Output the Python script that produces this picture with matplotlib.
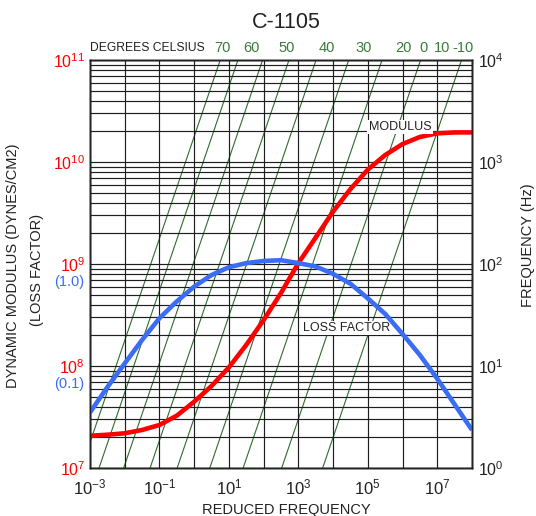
"""
C-1105 damping material nomogram: dynamic modulus and loss factor
against reduced frequency, with temperature isotherms.
"""

import matplotlib
matplotlib.use("Agg")
import matplotlib.pyplot as plt
import matplotlib.ticker as mticker
import matplotlib.transforms as mtransforms
import numpy as np

plt.rcParams["font.family"] = ["Liberation Sans", "DejaVu Sans"]
plt.rcParams["mathtext.fontset"] = "custom"
plt.rcParams["mathtext.rm"] = "Liberation Sans"
plt.rcParams["mathtext.it"] = "Liberation Sans:italic"
plt.rcParams["mathtext.bf"] = "Liberation Sans:bold"

# ── data ────────────────────────────────────────────────────────────────────
reduced_freq_exp = [-3, -2.5, -2, -1.5, -1, -0.5, 0, 0.5, 1, 1.5, 2, 2.5,
                    3, 3.5, 4, 4.5, 5, 5.5, 6, 6.5, 7, 7.5, 8]
modulus = [2.07e7, 2.12e7, 2.19e7, 2.36e7, 2.64e7, 3.26e7, 4.47e7, 6.37e7,
           9.70e7, 1.61e8, 2.82e8, 5.20e8, 1.02e9, 1.82e9, 3.27e9, 5.43e9,
           8.43e9, 1.17e10, 1.50e10, 1.76e10, 1.91e10, 1.95e10, 1.95e10]
loss_factor = [0.035, 0.062, 0.106, 0.180, 0.294, 0.43, 0.60, 0.78, 0.93,
               1.02, 1.07, 1.09, 1.02, 0.945, 0.80, 0.64, 0.46, 0.324,
               0.206, 0.128, 0.075, 0.042, 0.0236]

# isotherms: log10 of shift factor aT (fR = f * aT)
shift_exp = [-3.25, -2.74, -2.03, -1.27, -0.49, 0.45, 1.41, 2.52, 3.70]
temp_labels = ["70", "60", "50", "40", "30", "20", "0", "10", "-10"]
temp_label_pos = [0.80, 1.64, 2.67, 3.82, 4.89, 6.04, 6.59, 7.14, 7.74]

# ── colours ─────────────────────────────────────────────────────────────────
C_MOD = "#ff0000"
C_LOSS = "#3a6cf4"
C_ISO = "#2e6b2e"
C_ISO_TXT = "#3b7a3b"
C_GRID = "#1e1e1e"
C_TXT = "#222222"

rf = 10.0 ** np.array(reduced_freq_exp)

fig = plt.figure(figsize=(5.36, 5.16), dpi=100)
fig.patch.set_facecolor("white")
ax = fig.add_axes([90 / 536, 48 / 516, 382 / 536, 408 / 516])
ax2 = ax.twinx()   # frequency (Hz) – isotherms
ax3 = ax.twinx()   # loss factor

ax2.set_zorder(1)
ax.set_zorder(2)
ax3.set_zorder(3)
ax.patch.set_visible(False)

ax.set_xscale("log")
ax.set_yscale("log")
ax.set_xlim(1e-3, 1e8)
ax.set_ylim(1e7, 1e11)
ax2.set_yscale("log")
ax2.set_ylim(1, 1e4)
ax3.set_yscale("log")
ax3.set_ylim(1e-2, 1e2)


def pow10(v, pos=None):
    return rf"$10^{{\mathregular{{{int(round(np.log10(v)))}}}}}$"


def xfmt(v, pos):
    e = int(round(np.log10(v)))
    return pow10(v) if e % 2 else ""


# x ticks: every decade for grid, label every other one
ax.xaxis.set_major_locator(mticker.LogLocator(base=10, numticks=20))
ax.xaxis.set_minor_locator(mticker.NullLocator())
ax.xaxis.set_major_formatter(mticker.FuncFormatter(xfmt))
ax.yaxis.set_major_locator(mticker.LogLocator(base=10, numticks=10))
ax.yaxis.set_minor_locator(mticker.LogLocator(base=10, subs=np.arange(2, 10), numticks=10))
ax.yaxis.set_major_formatter(mticker.FuncFormatter(pow10))
ax.yaxis.set_minor_formatter(mticker.NullFormatter())
ax.grid(True, which="both", color=C_GRID, lw=0.85)
ax.tick_params(which="both", length=0)
ax.tick_params(axis="y", colors=C_MOD, labelsize=11.5, pad=3.5)
ax.tick_params(axis="x", colors=C_TXT, labelsize=12, pad=7)

ax2.yaxis.set_major_locator(mticker.LogLocator(base=10, numticks=10))
ax2.yaxis.set_minor_locator(mticker.NullLocator())
ax2.yaxis.set_major_formatter(mticker.FuncFormatter(pow10))
ax2.tick_params(which="both", length=0, labelsize=11.5, pad=4.5, colors=C_TXT)

ax3.yaxis.set_visible(False)
for a in (ax, ax2, ax3):
    for s in a.spines.values():
        s.set_color(C_TXT)
        s.set_linewidth(1.0)

# ── isotherms ───────────────────────────────────────────────────────────────
for e in shift_exp:
    at = 10.0 ** e
    ax2.plot([at * 1.0, at * 1e4], [1.0, 1e4], color=C_ISO, lw=0.8)

# ── curves ──────────────────────────────────────────────────────────────────
ax.plot(rf, modulus, color=C_MOD, lw=3.3, solid_capstyle="butt")
ax3.plot(rf, loss_factor, color=C_LOSS, lw=3.3, solid_capstyle="butt")

# ── labels ──────────────────────────────────────────────────────────────────
top_tr = mtransforms.blended_transform_factory(ax.transData, ax.transAxes)
for lab, p in zip(temp_labels, temp_label_pos):
    ax.text(10.0 ** p, 1.029, lab, transform=top_tr, ha="center", va="center",
            fontsize=10.5, color=C_ISO_TXT, clip_on=False)
ax.text(0.0, 1.029, "DEGREES CELSIUS", transform=ax.transAxes, ha="left",
        va="center", fontsize=8.7, color=C_TXT)

ax.text(8.5e5, 2.2e10, "MODULUS", ha="center", va="center", fontsize=9,
        color=C_TXT, bbox=dict(fc="white", ec="none", pad=1), zorder=5)
ax.text(2.5e4, 2.36e8, "LOSS FACTOR", ha="center", va="center", fontsize=9,
        color=C_TXT, bbox=dict(fc="white", ec="none", pad=1), zorder=5)

blue_tr = mtransforms.offset_copy(
    mtransforms.blended_transform_factory(ax3.transAxes, ax3.transData),
    fig=fig, x=-6, y=-18, units="dots")
for v, s in [(1.0, "(1.0)"), (0.1, "(0.1)")]:
    ax3.text(0.0, v, s, transform=blue_tr, ha="right", va="center",
             fontsize=10.5, color=C_LOSS, clip_on=False)

fig.text(286 / 536, 1 - 23 / 516, "C-1105", ha="center", va="center",
         fontsize=15.5, color=C_TXT)
fig.text(286 / 536, 1 - 510 / 516, "REDUCED FREQUENCY", ha="center",
         va="center", fontsize=10.5, color=C_TXT)
fig.text(13 / 536, 1 - 266 / 516, "DYNAMIC MODULUS (DYNES/CM2)", rotation=90,
         ha="center", va="center", fontsize=10.5, color=C_TXT)
fig.text(37 / 536, 1 - 270 / 516, "(LOSS FACTOR)", rotation=90,
         ha="center", va="center", fontsize=10.5, color=C_TXT)
fig.text(528 / 536, 1 - 245 / 516, "FREQUENCY (Hz)", rotation=90,
         ha="center", va="center", fontsize=10.5, color=C_TXT)

fig.savefig("out.png", dpi=100, facecolor="white")
